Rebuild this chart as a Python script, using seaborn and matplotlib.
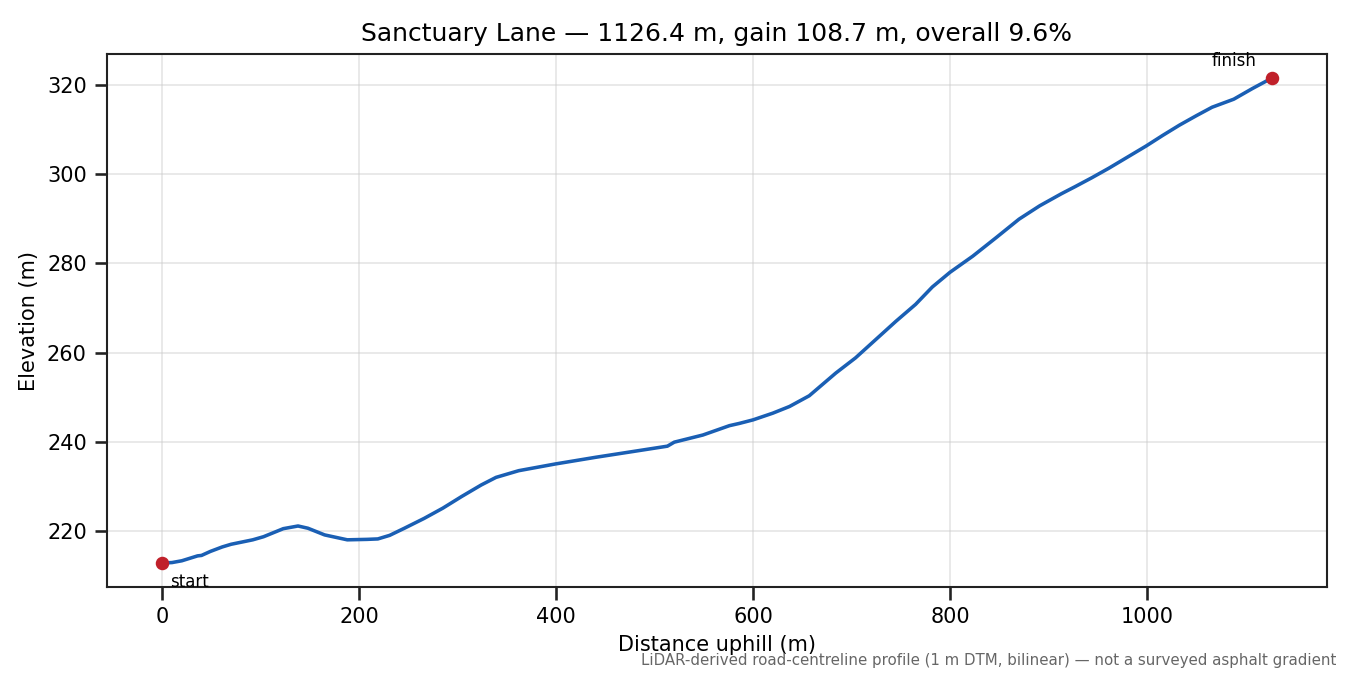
import pandas as pd
import matplotlib
matplotlib.use("Agg")
import matplotlib.pyplot as plt
import seaborn as sns

# --- profile (distance m, elevation m) ---
distance = [0, 10, 20, 36, 40, 49, 61, 70, 92, 103, 123, 138, 148, 165, 188,
            208, 219, 231, 246, 266, 285, 304, 324, 339, 362, 399, 440, 478,
            513, 520, 549, 576, 586, 600, 620, 637, 657, 684, 704, 725, 745,
            765, 782, 800, 823, 847, 870, 891, 913, 927, 944, 961, 980, 999,
            1016, 1033, 1050, 1066, 1088, 1107, 1126.4]
elevation = [212.8, 212.9, 213.3, 214.4, 214.5, 215.4, 216.4, 217.0, 218.0,
             218.7, 220.5, 221.1, 220.6, 219.1, 218.0, 218.1, 218.2, 219.0,
             220.6, 222.8, 225.1, 227.7, 230.3, 232.0, 233.5, 235.0, 236.5,
             237.8, 239.0, 239.9, 241.5, 243.6, 244.1, 244.9, 246.4, 247.9,
             250.3, 255.4, 258.8, 263.0, 267.0, 270.8, 274.7, 278.0, 281.6,
             285.8, 289.9, 292.9, 295.6, 297.2, 299.2, 301.3, 303.8, 306.3,
             308.7, 311.0, 313.1, 315.0, 316.8, 319.2, 321.5]

title = "Sanctuary Lane \u2014 1126.4 m, gain 108.7 m, overall 9.6%"
note = "LiDAR-derived road-centreline profile (1 m DTM, bilinear) \u2014 not a surveyed asphalt gradient"

df = pd.DataFrame({"distance": distance, "elevation": elevation})

sns.set_theme(style="ticks")
plt.rcParams["font.family"] = ["DejaVu Sans"]
plt.rcParams["text.color"] = "black"
plt.rcParams["axes.labelcolor"] = "black"
plt.rcParams["xtick.color"] = "black"
plt.rcParams["ytick.color"] = "black"

fig, ax = plt.subplots(figsize=(9, 4.5), dpi=150)
fig.subplots_adjust(left=0.079, right=0.983, top=0.92, bottom=0.13)

sns.lineplot(data=df, x="distance", y="elevation", ax=ax, color="#1a5fb4", linewidth=1.7)

ends = df.iloc[[0, -1]]
ax.scatter(ends["distance"], ends["elevation"], color="#c0202a", s=30, zorder=5)
ax.annotate("start", (ends["distance"].iloc[0], ends["elevation"].iloc[0]),
            xytext=(4, -5), textcoords="offset points", ha="left", va="top", fontsize=8)
ax.annotate("finish", (ends["distance"].iloc[1], ends["elevation"].iloc[1]),
            xytext=(-7, 4), textcoords="offset points", ha="right", va="bottom", fontsize=8)

ax.grid(True, color="#cccccc", alpha=0.5, linewidth=0.8)
for s in ax.spines.values():
    s.set_color("#222222")
    s.set_linewidth(1.0)
ax.tick_params(labelsize=10, color="#222222")

ax.set_title(title, fontsize=12)
ax.set_xlabel("Distance uphill (m)", fontsize=10)
ax.set_ylabel("Elevation (m)", fontsize=10)

fig.text(0.99, 0.011, note, ha="right", va="bottom", fontsize=7.2, color="#666666")

fig.savefig("out.png", dpi=150)
